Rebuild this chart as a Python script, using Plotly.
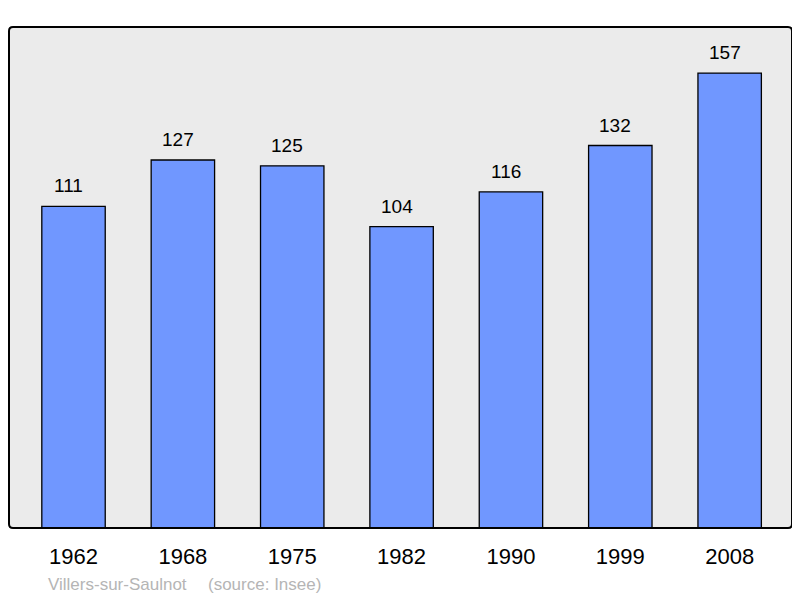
import plotly.graph_objects as go

years = ["1962", "1968", "1975", "1982", "1990", "1999", "2008"]
population = [111, 127, 125, 104, 116, 132, 157]
commune = "Villers-sur-Saulnot"
source = "(source: Insee)"

# the page body has an 8px margin, so the figure is drawn 8px in from the top-left
OFF = 8
W, H = 800 - OFF, 598 - OFF
L, T = 9 - OFF, 27 - OFF
pw, ph = 783, 501
R, B = W - L - pw, H - T - ph

fig = go.Figure()
fig.add_trace(go.Bar(
    x=list(range(len(years))), y=population, width=0.58,
    marker=dict(color="#7097ff", line=dict(color="#000000", width=1.3)),
    hovertext=years, hoverinfo="text+y",
))
for i, v in enumerate(population):
    fig.add_annotation(x=i, y=v, text=str(v), showarrow=False, yanchor="bottom",
                       yshift=8, xshift=-5,
                       font=dict(size=19, color="#000000", family="Liberation Sans, Arial"))

# rounded border
r = 4
rx, ry = r / pw, r / ph
path = (f"M {rx},0 L {1-rx},0 Q 1,0 1,{ry} L 1,{1-ry} Q 1,1 {1-rx},1 "
        f"L {rx},1 Q 0,1 0,{1-ry} L 0,{ry} Q 0,0 {rx},0 Z")
fig.add_shape(type="path", xref="paper", yref="paper", path=path,
              line=dict(color="#000000", width=2), layer="above")

def px_x(x):
    return (x - 9) / pw

def px_y(y):
    return (528 - y) / ph

fig.add_annotation(xref="paper", yref="paper", x=px_x(46), y=px_y(584),
                   text=commune, showarrow=False, xanchor="left", yanchor="middle",
                   font=dict(size=17, color="#b5b5b5", family="Liberation Sans, Arial"))
fig.add_annotation(xref="paper", yref="paper", x=px_x(206), y=px_y(584),
                   text=source, showarrow=False, xanchor="left", yanchor="middle",
                   font=dict(size=17, color="#b5b5b5", family="Liberation Sans, Arial"))

fig.update_layout(
    width=W, height=H,
    margin=dict(l=L, r=R, t=T, b=B, pad=0),
    paper_bgcolor="#ffffff", plot_bgcolor="#ebebeb",
    showlegend=False,
    xaxis=dict(range=[-0.59, 6.57], showgrid=False, zeroline=False,
               showline=False, ticks="outside", ticklen=9, tickcolor="rgba(0,0,0,0)",
               tickmode="array", tickvals=list(range(len(years))), ticktext=years,
               tickfont=dict(size=22, color="#000000", family="Liberation Sans, Arial")),
    yaxis=dict(range=[0, 172.9], showgrid=False, zeroline=False, showline=False,
               showticklabels=False, ticks=""),
)
fig.write_html("out.html")
